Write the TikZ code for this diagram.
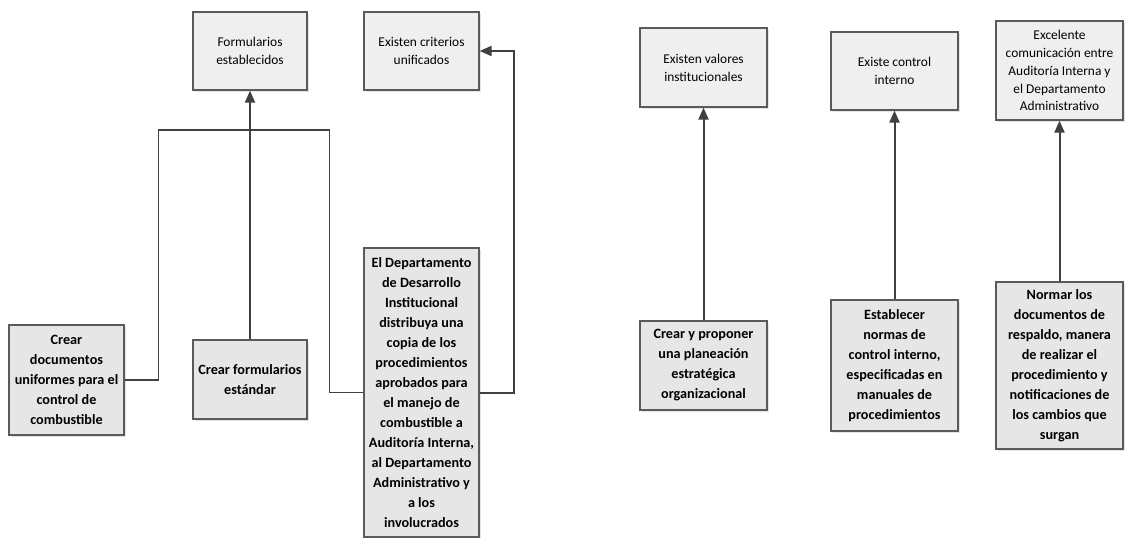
\documentclass[tikz,border=0pt]{standalone}
\usepackage{fontspec}
\setmainfont{Carlito}
\usetikzlibrary{arrows.meta,shadows}
\definecolor{borde}{HTML}{5A5A5A}
\definecolor{trazo}{HTML}{404040}
\definecolor{claro}{HTML}{EFEFEF}
\definecolor{medio}{HTML}{E6E6E6}
\tikzset{
    caja/.style={draw=borde,line width=1.2pt,align=center,inner sep=2pt,
        drop shadow={shadow xshift=2pt,shadow yshift=-2pt,fill=black!20,opacity=0.5}},
    meta/.style={caja,fill=claro,font=\fontsize{13.4}{17.9}\selectfont},
    accion/.style={caja,fill=medio,font=\fontsize{14.2}{20}\selectfont\bfseries},
    linea/.style={trazo,line width=1.6pt},
    flecha/.style={trazo,line width=2pt,-{Triangle[length=12pt,width=10pt]}}
}
\begin{document}
\begin{tikzpicture}[x=1pt,y=-1pt]
        \useasboundingbox (0,0) rectangle (1141,538);
        % resultados
        \node [meta,minimum width=114pt,minimum height=78pt] (f1) at (250,51) {Formularios\\establecidos};
        \node [meta,minimum width=115pt,minimum height=78pt] (f2) at (421.5,51) {Existen criterios\\unificados};
        \node [meta,minimum width=127pt,minimum height=79pt] (f3) at (703.5,67.5) {Existen valores\\institucionales};
        \node [meta,minimum width=127pt,minimum height=78pt] (f4) at (894.5,71) {Existe control\\interno};
        \node [meta,minimum width=127pt,minimum height=99pt] (f5) at (1059.5,70.5) {Excelente\\comunicación entre\\Auditoría Interna y\\el Departamento\\Administrativo};
        % acciones
        \node [accion,minimum width=115pt,minimum height=110pt] (a1) at (66.5,380) {Crear\\documentos\\uniformes para el\\control de\\combustible};
        \node [accion,minimum width=114pt,minimum height=79pt] (a2) at (250,379.5) {Crear formularios\\estándar};
        \node [accion,minimum width=115pt,minimum height=289pt] (a3) at (421.5,392.5) {El Departamento\\de Desarrollo\\Institucional\\distribuya una\\copia de los\\procedimientos\\aprobados para\\el manejo de\\combustible a\\Auditoría Interna,\\al Departamento\\Administrativo y\\a los\\involucrados};
        \node [accion,minimum width=127pt,minimum height=89pt] (a4) at (703.5,365.5) {Crear y proponer\\una planeación\\estratégica\\organizacional};
        \node [accion,minimum width=127pt,minimum height=131pt] (a5) at (894.5,365.5) {Establecer\\normas de\\control interno,\\especificadas en\\manuales de\\procedimientos};
        \node [accion,minimum width=127pt,minimum height=167pt] (a6) at (1059.5,365.5) {Normar los\\documentos de\\respaldo, manera\\de realizar el\\procedimiento y\\notificaciones de\\los cambios que\\surgan};
        \coordinate (junta) at (250,130);
        \draw [linea] (a1.east) -- ++(34,0) |- (junta);
        \draw [linea] (a3.west) -- ++(-34,0) |- (junta);
        \draw [flecha] (a2) -- (f1);
        \draw [flecha] (a3.east) -- ++(34,0) |- (f2.east);
        \draw [flecha] (a4) -- (f3);
        \draw [flecha] (a5) -- (f4);
        \draw [flecha] (a6) -- (f5);
    \end{tikzpicture}
\end{document}
